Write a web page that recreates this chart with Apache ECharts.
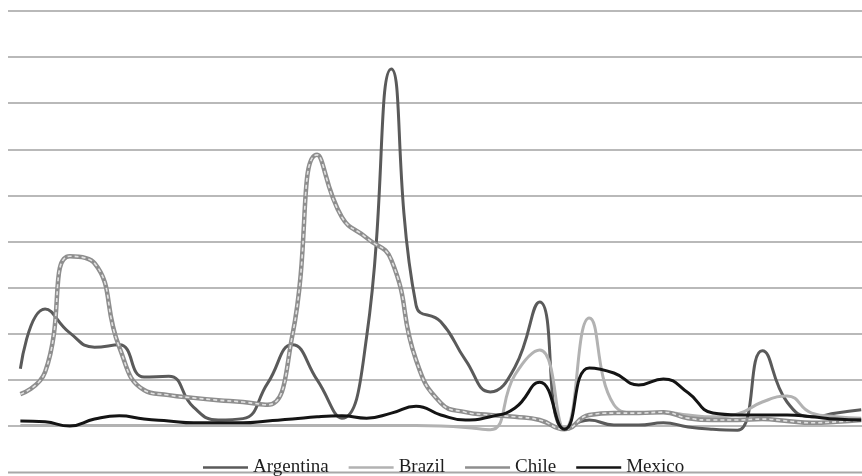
<!DOCTYPE html>
<html>
<head>
<meta charset="utf-8">
<script src="https://cdn.jsdelivr.net/npm/echarts@6/dist/echarts.min.js"></script>
<style>
html,body{margin:0;padding:0;background:#fff;}
#chart{width:862px;height:476px;}
</style>
</head>
<body>
<div id="chart"></div>
<script>
var categories = ['1','2','3','4','5','6','7','8','9','10','11','12','13','14','15','16','17','18','19','20','21','22','23','24','25','26','27','28','29','30','31','32','33','34','35'];
var seriesNames = ['Argentina', 'Brazil', 'Chile', 'Mexico'];
var argentina = [12.4,25.4,20.2,17.1,17.6,10.6,10.8,4.1,1.3,1.6,9.3,17.6,10.0,1.7,19.3,77.4,26.2,22.6,14.3,7.4,12.8,26.9,-0.7,1.3,0.2,0.2,0.7,-0.2,-0.7,-0.9,16.3,5.2,2.0,2.8,3.5];
var brazil = [0.1,0.1,0.1,0.1,0.1,0.1,0.1,0.1,0.1,0.1,0.1,0.1,0.1,0.1,0.1,0.1,0.1,0.0,-0.3,-0.8,11.1,16.5,-0.7,23.4,4.6,2.8,3.0,2.4,2.0,2.6,5.2,6.5,2.8,2.0,1.7];
var chile = [6.9,11.7,36.8,35.3,17.1,7.8,6.7,6.1,5.6,5.2,4.6,19.7,58.8,45.3,40.8,36.0,14.3,5.0,3.0,2.4,2.0,1.3,-0.7,2.4,2.8,2.8,3.0,1.7,1.3,1.3,1.5,1.1,0.7,0.9,1.3];
var mexico = [1.1,0.9,0.0,1.5,2.2,1.5,1.1,0.7,0.7,0.7,1.1,1.5,2.0,2.2,1.7,2.8,4.3,2.4,1.3,2.0,3.9,9.5,-0.7,12.6,11.5,8.9,10.2,7.2,2.8,2.4,2.4,2.4,2.0,1.5,1.3];

var chart = echarts.init(document.getElementById('chart'), null, {renderer: 'canvas'});

function lineSeries(name, data, color, width, z, extra) {
  var s = {
    name: name,
    type: 'line',
    data: data,
    smooth: 0.5,
    symbol: 'none',
    showSymbol: false,
    clip: false,
    z: z,
    lineStyle: {color: color, width: width},
    itemStyle: {color: color},
    emphasis: {disabled: true}
  };
  if (extra) { for (var k in extra) s.lineStyle[k] = extra[k]; }
  return s;
}

var option = {
  animation: false,
  backgroundColor: '#ffffff',
  grid: {left: 8, top: 11, right: -11.6, height: 415, containLabel: false, outerBoundsMode: 'none'},
  xAxis: {
    type: 'category',
    data: categories,
    boundaryGap: true,
    axisLine: {show: false},
    axisTick: {show: false},
    axisLabel: {show: false},
    splitLine: {show: false}
  },
  yAxis: {
    type: 'value',
    min: 0,
    max: 90,
    interval: 10,
    axisLine: {show: false},
    axisTick: {show: false},
    axisLabel: {show: false},
    splitLine: {show: true, lineStyle: {color: '#a2a2a2', width: 1.6}}
  },
  legend: {
    data: seriesNames,
    left: 198,
    top: 453,
    icon: 'rect',
    itemWidth: 45,
    itemHeight: 2.6,
    itemGap: 20,
    textStyle: {fontFamily: 'Liberation Serif', fontSize: 19, color: '#1e1e1e'}
  },
  graphic: [{
    type: 'line',
    shape: {x1: 8, y1: 472.5, x2: 862, y2: 472.5},
    style: {stroke: '#a8a8a8', lineWidth: 2}
  }],
  series: [
    lineSeries('Argentina', argentina, '#5a5a5a', 3, 2),
    lineSeries('Brazil', brazil, '#b2b2b2', 3, 3),
    lineSeries('Chile', chile, '#8e8e8e', 4.5, 4),
    lineSeries('Chile', chile, '#e2e2e2', 1.6, 5, {type: [4, 3]}),
    lineSeries('Mexico', mexico, '#141414', 3, 6)
  ]
};
chart.setOption(option);
</script>
</body>
</html>
